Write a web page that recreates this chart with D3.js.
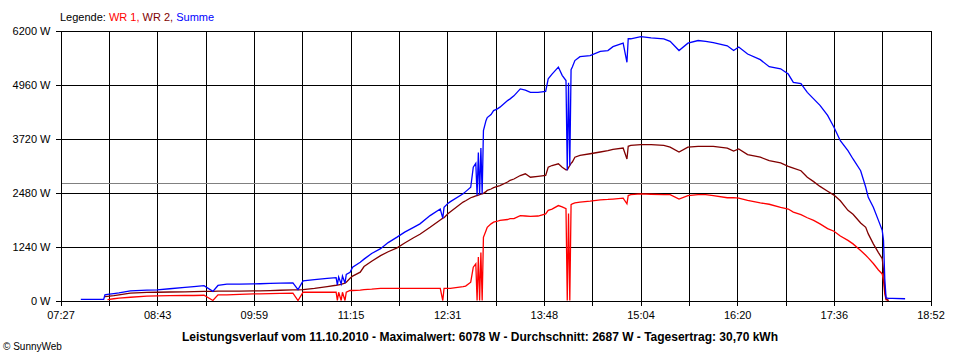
<!DOCTYPE html>
<html>
<head>
<meta charset="utf-8">
<script src="https://cdn.jsdelivr.net/npm/d3@7"></script>
<style>
  body { margin: 0; background: #fff; }
  svg { display: block; font-family: "Liberation Sans", Arial, sans-serif; }
</style>
</head>
<body>
<svg id="chart" width="960" height="360"></svg>
<script>
const times = [
  '07:43','08:01','08:02','08:04','08:09','08:13','08:22','08:35','08:43','08:53','09:05',
  '09:12','09:20','09:27','09:31','09:38','09:48','09:59','10:04','10:12','10:20',
  '10:30','10:34','10:38','10:47','10:57','11:04','11:05','11:06','11:08','11:09',
  '11:11','11:12','11:15','11:17','11:23','11:26','11:32','11:39','11:45','11:52',
  '11:58','12:05','12:10','12:18','12:26','12:28','12:29','12:32','12:34','12:44',
  '12:46','12:50','12:52','12:54','12:55','12:56','12:57','12:58','12:59','13:00',
  '13:02','13:03','13:06','13:08','13:11','13:13','13:19','13:21','13:24','13:29',
  '13:33','13:37','13:43','13:49','13:51','13:54','13:59','14:02','14:05','14:06',
  '14:07','14:08','14:09','14:10','14:12','14:16','14:24','14:32','14:38','14:42',
  '14:50','14:53','14:54','14:56','15:04','15:12','15:22','15:27','15:34','15:41',
  '15:49','15:55','16:01','16:12','16:17','16:21','16:28','16:38','16:45','16:54',
  '17:00','17:04','17:10','17:15','17:20','17:25','17:31','17:36','17:41','17:47',
  '17:51','17:57','18:01','18:03','18:07','18:11','18:14','18:15','18:16','18:17',
  '18:19','18:22','18:32'
];

const wr1 = [
  null,null,null,20,40,55,75,100,105,110,115,
  115,120,0,130,130,140,150,150,160,165,
  170,0,190,190,190,190,0,190,0,190,
  0,190,230,230,240,250,260,280,280,280,
  280,280,280,280,280,0,280,280,280,320,
  330,420,765,840,0,1000,0,1100,0,1450,
  1600,1680,1760,1800,1820,1840,1860,1880,1880,1950,
  1940,1930,1940,1990,2070,2100,2180,2150,2110,0,
  2000,0,2200,2220,2240,2260,2280,2310,2320,2330,
  2350,2220,2410,2430,2450,2440,2430,2430,2330,2410,
  2430,2430,2410,2360,2360,2350,2300,2240,2210,2140,
  2100,2030,1970,1900,1840,1760,1650,1590,1480,1380,
  1300,1150,1040,980,850,700,610,450,150,20,
  0,null,null
];

const wr2 = [
  null,null,90,95,110,130,170,185,190,195,200,
  205,210,210,215,215,215,220,220,225,235,
  245,245,250,280,320,350,355,360,370,380,
  400,420,510,560,650,780,900,1030,1120,1210,
  1320,1440,1520,1680,1850,1890,1900,1990,2040,2260,
  2290,2360,2380,2400,2410,2420,2430,2440,2450,2460,
  2500,2530,2560,2590,2620,2640,2720,2760,2790,2870,
  2910,2830,2850,2870,3060,3100,3140,3060,3000,3000,
  3050,3100,3150,3180,3290,3330,3370,3410,3440,3470,
  3500,3250,3540,3560,3580,3580,3560,3520,3410,3520,
  3540,3540,3540,3500,3430,3480,3350,3290,3210,3160,
  3080,3040,2980,2830,2730,2620,2510,2420,2290,2070,
  1980,1780,1680,1530,1300,1100,960,700,250,40,
  0,null,null
];

const summe = [
  25,25,130,140,160,175,220,240,245,270,300,
  320,340,210,345,375,375,380,385,395,400,
  405,250,450,480,510,525,360,540,380,560,
  400,600,650,765,880,950,1080,1190,1330,1455,
  1570,1680,1760,1950,2100,1890,2140,2230,2270,2450,
  2500,2600,3060,3150,2410,3400,2430,3500,2450,3900,
  4130,4200,4270,4360,4400,4440,4590,4630,4700,4860,
  4830,4780,4780,4800,5090,5200,5360,5170,5050,2990,
  5000,3100,5300,5360,5510,5600,5625,5720,5740,5830,
  5910,5470,6010,6010,6060,6030,6010,5950,5740,5910,
  5970,5950,5920,5850,5740,5820,5660,5530,5370,5320,
  5200,5010,4980,4780,4630,4480,4250,3980,3670,3440,
  3250,2980,2600,2370,2140,1840,1610,1380,500,60,
  50,50,40
];

const yTicks = [0, 1240, 2480, 3720, 4960, 6200];
const xTickLabels = ['07:27', '08:43', '09:59', '11:15', '12:31', '13:48', '15:04', '16:20', '17:36', '18:52'];
const average = 2687;
const titleText = 'Leistungsverlauf vom 11.10.2010 - Maximalwert: 6078 W - Durchschnitt: 2687 W - Tagesertrag: 30,70 kWh';

const series = [
  { name: 'WR 1', values: wr1, color: '#ff0000' },
  { name: 'WR 2', values: wr2, color: '#800000' },
  { name: 'Summe', values: summe, color: '#0000ff' },
];

const svg = d3.select('#chart');
const margin = { top: 30, right: 30, bottom: 60, left: 60 };
const width = +svg.attr('width');
const height = +svg.attr('height');
const innerWidth = width - margin.left - margin.right;
const innerHeight = height - margin.top - margin.bottom;

const toMin = (s) => {
  const [h, m] = s.split(':');
  return +h * 60 + +m;
};

const tStart = toMin(xTickLabels[0]);
const tEnd = toMin(xTickLabels[xTickLabels.length - 1]);
const nSteps = (xTickLabels.length - 1) * 2;
const tickVals = d3.range(nSteps + 1).map((i) => tStart + (i * (tEnd - tStart)) / nSteps);

const x = d3.scaleLinear().domain([tStart, tEnd]).range([0, innerWidth]);
const y = d3.scaleLinear().domain([0, d3.max(yTicks)]).range([innerHeight, 0]);

const g = svg.append('g').attr('transform', `translate(${margin.left + 0.5},${margin.top + 0.5})`);

// grid
const grid = g.append('g').attr('shape-rendering', 'crispEdges');
grid.append('g')
  .attr('transform', `translate(0,${innerHeight})`)
  .call(d3.axisBottom(x).tickValues(tickVals).tickSize(-innerHeight).tickFormat(''))
  .call((s) => s.select('.domain').remove())
  .call((s) => s.selectAll('text').remove())
  .selectAll('line').attr('stroke', '#000');
grid.append('g')
  .call(d3.axisLeft(y).tickValues(yTicks).tickSize(-innerWidth).tickFormat(''))
  .call((s) => s.select('.domain').remove())
  .call((s) => s.selectAll('text').remove())
  .selectAll('line').attr('stroke', '#000');

// average line
grid.append('line')
  .attr('x1', 0).attr('x2', innerWidth)
  .attr('y1', Math.round(y(average))).attr('y2', Math.round(y(average)))
  .attr('stroke', '#808080');

// axes
const yAxis = g.append('g')
  .attr('shape-rendering', 'crispEdges')
  .call(d3.axisLeft(y).tickValues(yTicks).tickSize(5).tickPadding(5).tickFormat((d) => d + ' W'));
const xAxis = g.append('g')
  .attr('shape-rendering', 'crispEdges')
  .attr('transform', `translate(0,${innerHeight})`)
  .call(d3.axisBottom(x).tickValues(tickVals).tickSize(5).tickPadding(6)
    .tickFormat((d, i) => (i % 2 === 0 ? xTickLabels[i / 2] : '')));
xAxis.selectAll('text').filter(function () { return this.textContent === ''; }).remove();

[yAxis, xAxis].forEach((a) => {
  a.selectAll('.domain').attr('stroke', '#000');
  a.selectAll('line').attr('stroke', '#000');
  a.selectAll('text').attr('fill', '#000').style('font-size', '11px')
    .style('font-family', '"Liberation Sans", Arial, sans-serif');
});

// data lines
const line = d3.line()
  .defined((d) => d.v !== null)
  .x((d) => x(d.t))
  .y((d) => y(d.v));

series.forEach((s) => {
  const pts = times.map((t, i) => ({ t: toMin(t), v: s.values[i] }));
  g.append('path')
    .datum(pts)
    .attr('fill', 'none')
    .attr('stroke', s.color)
    .attr('stroke-width', 1.3)
    .attr('d', line);
});

// legend
const legend = svg.append('text')
  .attr('x', margin.left)
  .attr('y', 21)
  .style('font-size', '11px');
legend.append('tspan').attr('fill', '#000').text('Legende: ');
series.forEach((s, i) => {
  legend.append('tspan')
    .attr('fill', s.color)
    .text(s.name + (i < series.length - 1 ? ', ' : ''));
});

// title
svg.append('text')
  .attr('x', 480)
  .attr('y', 341)
  .attr('text-anchor', 'middle')
  .style('font-size', '12px')
  .style('font-weight', 'bold')
  .attr('fill', '#000')
  .text(titleText);

svg.append('text')
  .attr('x', 3)
  .attr('y', 350)
  .style('font-size', '10px')
  .attr('fill', '#000')
  .text('\u00a9 SunnyWeb');
</script>
</body>
</html>
